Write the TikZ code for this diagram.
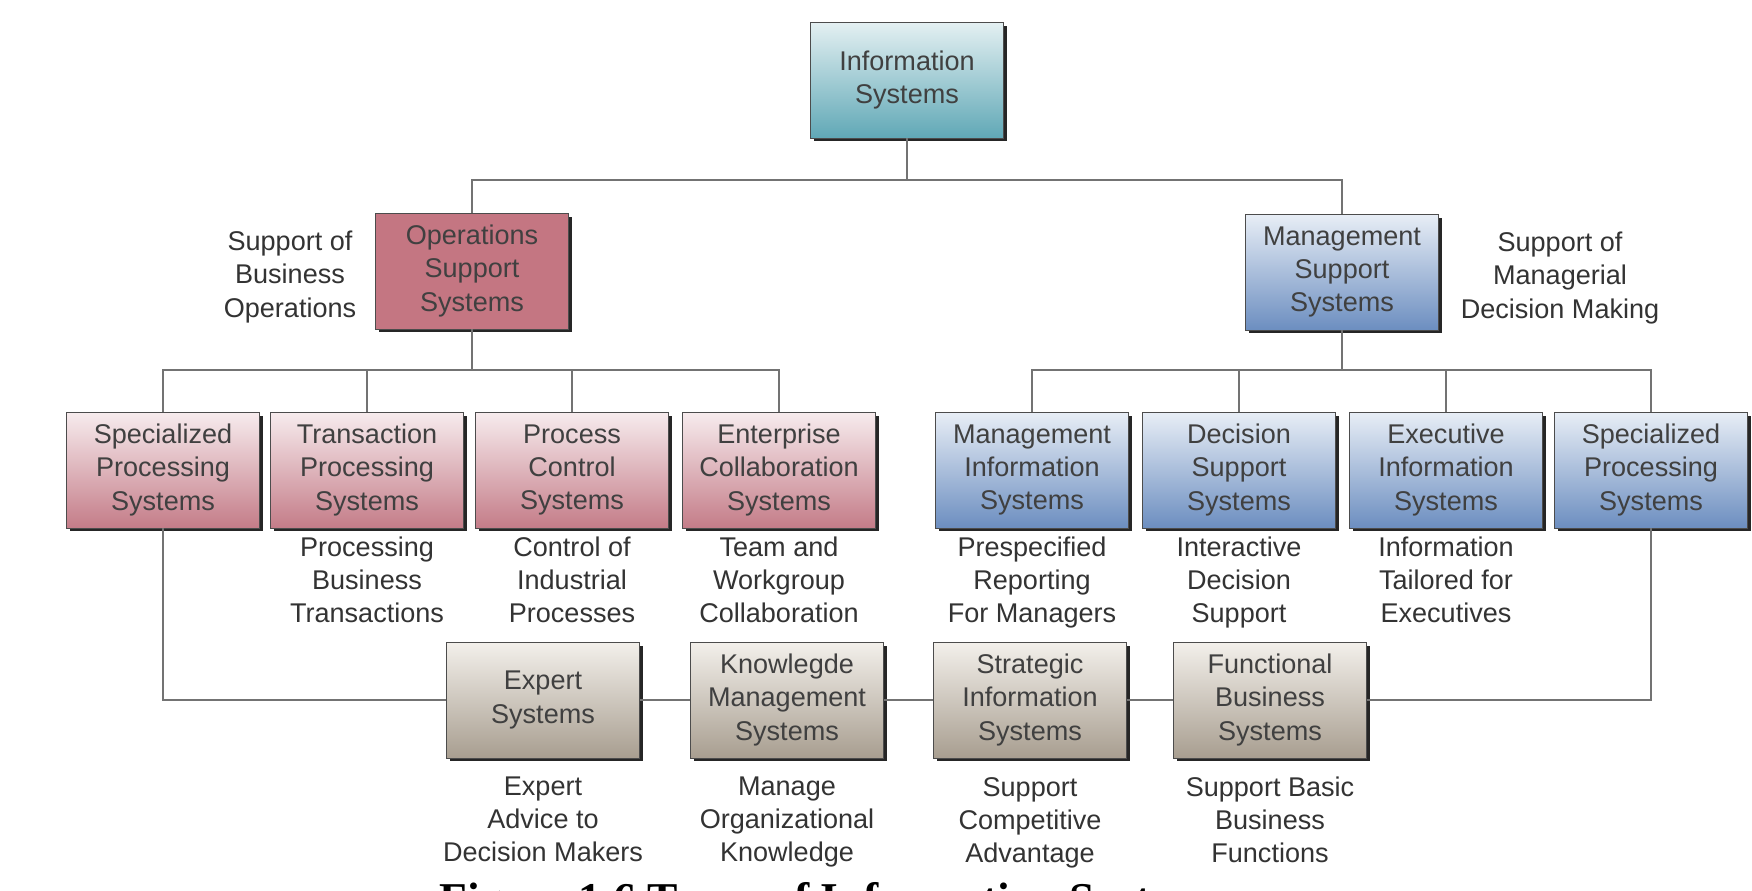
\documentclass[tikz,border=0pt]{standalone}
\usepackage{fontspec}
\setmainfont{Liberation Sans}
\newfontfamily\capfont{Liberation Serif}
\usepackage{tikz}
\usetikzlibrary{shadows}

\definecolor{infotop}{RGB}{228,240,242}
\definecolor{infobot}{RGB}{96,168,182}
\definecolor{opsfill}{RGB}{196,118,130}
\definecolor{opstop}{RGB}{247,236,238}
\definecolor{opsbot}{RGB}{196,124,136}
\definecolor{mgttop}{RGB}{232,238,246}
\definecolor{mgtbot}{RGB}{108,142,192}
\definecolor{gentop}{RGB}{243,240,235}
\definecolor{genbot}{RGB}{168,158,144}
\definecolor{linecol}{RGB}{115,115,115}

\tikzset{
  sysbox/.style={shape=rectangle, draw=black!70, line width=0.5pt,
    minimum width=3.86cm, minimum height=2.32cm, inner sep=0pt,
    align=center, text=black!75,
    drop shadow={shadow xshift=0.07cm, shadow yshift=-0.07cm, fill=black!85, opacity=1}},
  infobox/.style={sysbox, top color=infotop, bottom color=infobot},
  opsmain/.style={sysbox, fill=opsfill},
  mgtmain/.style={sysbox, top color=mgttop, bottom color=mgtbot},
  opsbox/.style={sysbox, top color=opstop, bottom color=opsbot},
  mgtbox/.style={sysbox, top color=mgttop, bottom color=mgtbot},
  genbox/.style={sysbox, top color=gentop, bottom color=genbot},
  note/.style={align=center, text=black!80},
  belownote/.style={note, anchor=north},
  link/.style={draw=linecol, line width=1.1pt}
}

\begin{document}
\begin{tikzpicture}[x=0.02cm, y=-0.02cm, font=\fontsize{15.4}{18.8}\selectfont]
      \path[use as bounding box, fill=white] (0,0) rectangle (1752,891);
      \clip (0,0) rectangle (1752,891);

      % top
      \node[infobox] (info) at (907,80) {Information\\Systems};
      \node[opsmain] (ops) at (472,271) {Operations\\Support\\Systems};
      \node[mgtmain] (mgt) at (1342,272) {Management\\Support\\Systems};
      \node[note] (lops) at (290,277) {Support of\\Business\\Operations};
      \node[note] (lmgt) at (1560,278) {Support of\\Managerial\\Decision Making};

      % second row
      \node[opsbox] (spo) at (163,470) {Specialized\\Processing\\Systems};
      \node[opsbox] (tps) at (367,470) {Transaction\\Processing\\Systems};
      \node[opsbox] (pcs) at (572,470) {Process\\Control\\Systems};
      \node[opsbox] (ecs) at (779,470) {Enterprise\\Collaboration\\Systems};
      \node[mgtbox] (mis) at (1032,470) {Management\\Information\\Systems};
      \node[mgtbox] (dss) at (1239,470) {Decision\\Support\\Systems};
      \node[mgtbox] (eis) at (1446,470) {Executive\\Information\\Systems};
      \node[mgtbox] (spm) at (1651,470) {Specialized\\Processing\\Systems};

      \node[belownote] (ltps) at (367,531) {Processing\\Business\\Transactions};
      \node[belownote] (lpcs) at (572,531) {Control of\\Industrial\\Processes};
      \node[belownote] (lecs) at (779,531) {Team and\\Workgroup\\Collaboration};
      \node[belownote] (lmis) at (1032,531) {Prespecified\\Reporting\\For Managers};
      \node[belownote] (ldss) at (1239,531) {Interactive\\Decision\\Support};
      \node[belownote] (leis) at (1446,531) {Information\\Tailored for\\Executives};

      % third row
      \node[genbox] (es) at (543,700) {Expert\\Systems};
      \node[genbox] (kms) at (787,700) {Knowlegde\\Management\\Systems};
      \node[genbox] (sis) at (1030,700) {Strategic\\Information\\Systems};
      \node[genbox] (fbs) at (1270,700) {Functional\\Business\\Systems};

      \node[belownote] (les) at (543,771) {Expert\\Advice to\\Decision Makers};
      \node[belownote] (lkms) at (787,771) {Manage\\Organizational\\Knowledge};
      \node[belownote] (lsis) at (1030,771) {Support\\Competitive\\Advantage};
      \node[belownote] (lfbs) at (1270,771) {Support Basic\\Business\\Functions};

      \node[font=\capfont\bfseries\fontsize{25.9}{30}\selectfont, anchor=base] (cap) at (833,914) {Figure 1.6 Types of Information Systems};

      % connectors
      \coordinate (top) at (907,180);
      \coordinate (lbus) at (472,370);
      \coordinate (rbus) at (1342,370);
      \draw[link] (info) -- (top) -| (ops);
      \draw[link] (top) -| (mgt);
      \draw[link] (ops) -- (lbus);
      \draw[link] (mgt) -- (rbus);
      \foreach \b in {spo,tps,pcs,ecs}
        \draw[link] (lbus) -| (\b);
      \foreach \b in {mis,dss,eis,spm}
        \draw[link] (rbus) -| (\b);
      \draw[link] (spo) |- (es);
      \draw[link] (es) -- (kms);
      \draw[link] (kms) -- (sis);
      \draw[link] (sis) -- (fbs);
      \draw[link] (fbs) -| (spm);
    \end{tikzpicture}
\end{document}
